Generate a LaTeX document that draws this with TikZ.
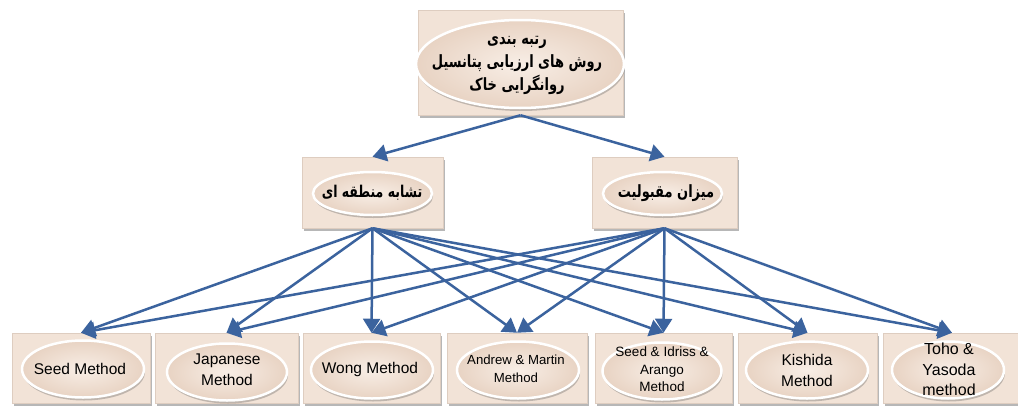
\documentclass[tikz,border=0pt]{standalone}
\usepackage{fontspec}
\setmainfont{Liberation Sans}
\newfontfamily\fa[Script=Arabic]{DejaVu Sans}
\TeXXeTstate=1
\usetikzlibrary{arrows.meta,shadows,shapes.geometric}
\definecolor{boxfill}{RGB}{242,227,215}
\definecolor{boxedge}{RGB}{222,205,192}
\definecolor{ellin}{RGB}{248,238,230}
\definecolor{ellout}{RGB}{232,211,195}
\definecolor{arr}{RGB}{59,99,158}
\newcommand{\tallfa}[1]{\scalebox{1}[1.3]{\beginR #1\endR}}
\begin{document}
\begin{tikzpicture}[x=1pt,y=-1pt,
  box/.style={rectangle, inner sep=0pt, fill=boxfill, draw=boxedge, line width=0.5pt,
    drop shadow={shadow xshift=2pt, shadow yshift=-3pt, opacity=0.4, fill=black!70}},
  ell/.style={ellipse, inner sep=0pt, draw=white, line width=2.5pt, shading=radial,
    inner color=ellin, outer color=ellout,
    drop shadow={shadow xshift=1pt, shadow yshift=-3pt, opacity=0.3, fill=black!70}},
  lbl/.style={inner sep=0pt, align=center},
  bbox/.style={box, minimum width=138pt, minimum height=70pt},
  bell/.style={ell, minimum width=122pt, minimum height=57pt},
  btxt/.style={lbl, font=\fontsize{15.5}{21}\selectfont},
  arrowst/.style={draw=arr, line width=2.5pt, -{Triangle[length=14pt,width=17pt]}}
]
\clip (0,0) rectangle (1018,407);
\fill[white] (0,0) rectangle (1018,407);

% top
\node[box, minimum width=205pt, minimum height=105pt] (T) at (520.5,62.5) {};
\node[ell, minimum width=208pt, minimum height=88pt] (Te) at (520,64) {};
\node[lbl, font=\fa\bfseries\fontsize{13}{23}\selectfont] (Tt) at (517,65)
  {\tallfa{رتبه بندی}\\\tallfa{روش های ارزیابی پتانسیل}\\\tallfa{روانگرایی خاک}};

% middle
\node[box, minimum width=141pt, minimum height=71pt] (L) at (372.5,192.5) {};
\node[ell, minimum width=119pt, minimum height=43pt] (Le) at (372.5,193.5) {};
\node[lbl, font=\fa\bfseries\fontsize{12.5}{18}\selectfont] (Lt) at (372,193) {\tallfa{تشابه منطقه ای}};
\node[box, minimum width=145pt, minimum height=71pt] (R) at (664.5,192.5) {};
\node[ell, minimum width=119pt, minimum height=43pt] (Re) at (662.5,193.5) {};
\node[lbl, font=\fa\bfseries\fontsize{13}{18}\selectfont] (Rt) at (666,193) {\tallfa{میزان مقبولیت}};

% bottom boxes
\node[bbox] (B1) at (81,368) {};
\node[bell] (E1) at (83,369) {};
\node[btxt] (t1) at (80,369) {Seed Method};
\node[bbox, minimum width=143pt] (B2) at (226.5,368) {};
\node[bell, minimum width=120pt] (E2) at (227,372) {};
\node[btxt] (t2) at (227,370) {Japanese\\Method};
\node[bbox, minimum width=137pt] (B3) at (371.5,368) {};
\node[bell] (E3) at (372,370) {};
\node[btxt] (t3) at (370,369) {Wong Method};
\node[bbox, minimum width=140pt] (B4) at (517,368) {};
\node[bell] (E4) at (518,370) {};
\node[btxt, font=\fontsize{13.2}{17.5}\selectfont] (t4) at (516,369) {Andrew \& Martin\\Method};
\node[bbox, minimum width=137pt] (B5) at (663.5,368) {};
\node[bell, minimum width=119pt] (E5) at (662,371) {};
\node[btxt, font=\fontsize{13.5}{17.5}\selectfont] (t5) at (662,369.5) {Seed \& Idriss \&\\Arango\\Method};
\node[bbox, minimum width=139pt] (B6) at (807.5,368) {};
\node[bell] (E6) at (807,370) {};
\node[btxt] (t6) at (807,370) {Kishida\\Method};
\node[bbox] (B7) at (952,368) {};
\node[bell, minimum width=112pt] (E7) at (948,370) {};
\node[btxt, font=\fontsize{16}{20.5}\selectfont] (t7) at (949,369.5) {Toho \&\\Yasoda\\method};

% connectors
\draw[arrowst] (T.south) -- (L.north);
\draw[arrowst] (T.south) -- (R.north);
\foreach \b in {B1,B2,B3,B4,B5,B6,B7}{
  \draw[arrowst] (L.south) -- (\b.north);
  \draw[arrowst] (R.south) -- (\b.north);
}
\end{tikzpicture}
\end{document}
